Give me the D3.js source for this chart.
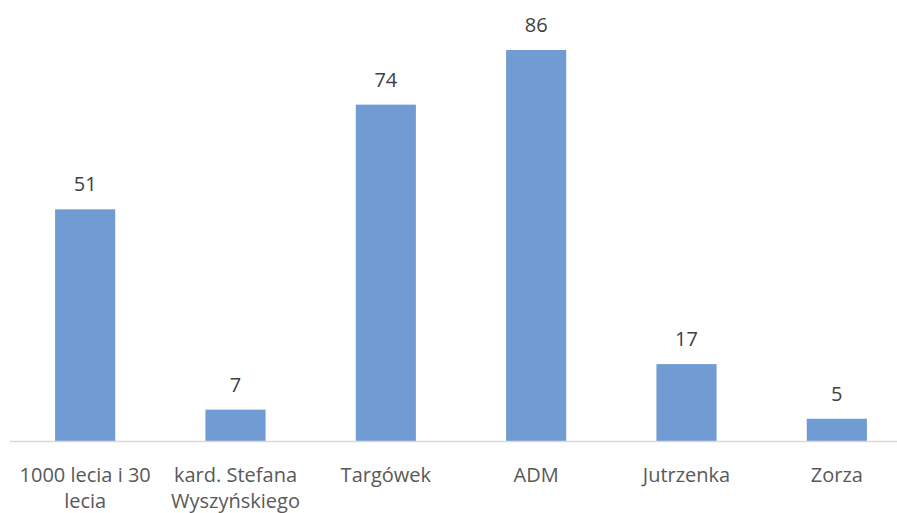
<!DOCTYPE html>
<meta charset="utf-8">
<style>
  body { margin: 0; background: #fff; }
  .value { font-family: "Open Sans", "Noto Sans", sans-serif; font-size: 20px; fill: #404040; text-anchor: middle; }
  .cat { font-family: "Open Sans", "Noto Sans", sans-serif; font-size: 20px; fill: #595959; text-anchor: middle; }
</style>
<svg width="897" height="513"></svg>
<script src="https://d3js.org/d3.v7.min.js"></script>
<script>
var categories = ["1000 lecia i 30\nlecia", "kard. Stefana\nWyszyńskiego", "Targówek", "ADM", "Jutrzenka", "Zorza"];
var values = [51, 7, 74, 86, 17, 5];

var svg = d3.select("svg"),
    baseline = 441.5;

var x = d3.scaleBand()
    .domain(categories)
    .range([10, 912])
    .paddingInner(0.6)
    .paddingOuter(0.3);

// 86 sits at y=50 in the reference
var y = d3.scaleLinear()
    .domain([0, 86])
    .range([baseline, 50]);

svg.selectAll("rect.bar")
    .data(values)
    .enter().append("rect")
    .attr("class", "bar")
    .attr("x", function(d, i) { return x(categories[i]); })
    .attr("width", x.bandwidth())
    .attr("y", function(d) { return y(d); })
    .attr("height", function(d) { return baseline - y(d); })
    .attr("fill", "#709bd3");

svg.append("line")
    .attr("x1", 10).attr("x2", 912)
    .attr("y1", baseline).attr("y2", baseline)
    .attr("stroke", "#d9d9d9")
    .attr("stroke-width", 1.5);

svg.selectAll("text.value")
    .data(values)
    .enter().append("text")
    .attr("class", "value")
    .attr("x", function(d, i) { return x(categories[i]) + x.bandwidth() / 2; })
    .attr("y", function(d) { return y(d) - 18; })
    .text(function(d) { return d; });

var labels = svg.selectAll("text.cat")
    .data(categories)
    .enter().append("text")
    .attr("class", "cat")
    .attr("x", function(d) { return x(d) + x.bandwidth() / 2; })
    .attr("y", 482);

labels.each(function(d) {
  var t = d3.select(this);
  var cx = t.attr("x");
  d.split("\n").forEach(function(line, j) {
    t.append("tspan").attr("x", cx).attr("dy", j ? 26 : 0).text(line);
  });
});
</script>
